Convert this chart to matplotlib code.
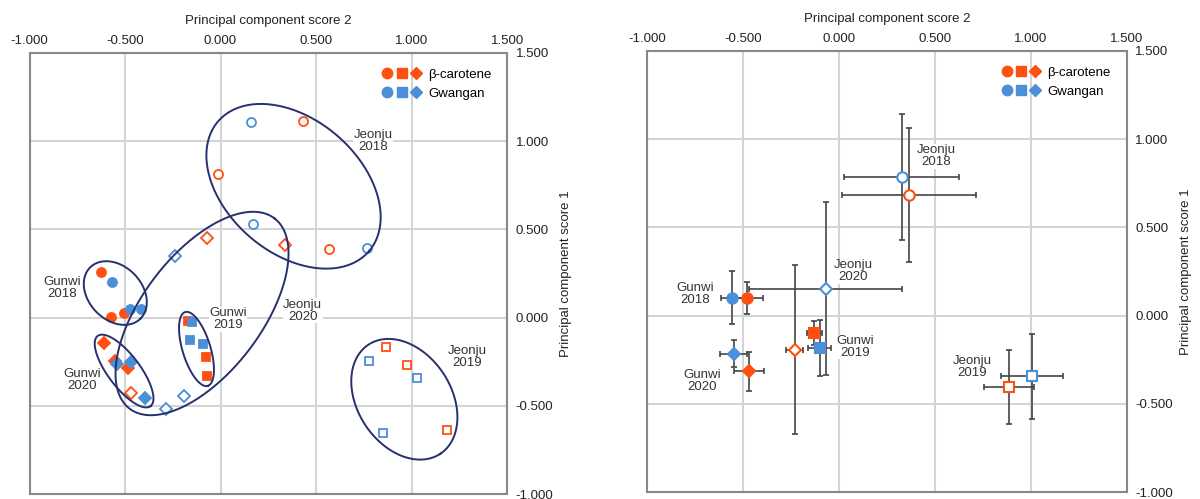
import numpy as np
import matplotlib
matplotlib.use('Agg')
import matplotlib.pyplot as plt
from matplotlib.lines import Line2D
from matplotlib.legend_handler import HandlerTuple

plt.rcParams['font.family'] = ['Liberation Sans', 'DejaVu Sans']
plt.rcParams['font.size'] = 9.5

ORANGE = '#ff5012'
BLUE = '#4a8fd8'
NAVY = '#26306e'

# ---- left panel: scores of every sample (PC2 on x, PC1 on y) ----
groups = ['Jeonju\n2018', 'Jeonju\n2019', 'Jeonju\n2020', 'Gunwi\n2018', 'Gunwi\n2019', 'Gunwi\n2020']
group_marker = ['o', 's', 'D', 'o', 's', 'D']
group_filled = [False, False, False, True, True, True]

bc_pc2 = [[0.431, -0.012, 0.567], [0.868, 0.974, 1.187], [-0.070, 0.335, -0.471],
          [-0.628, -0.572, -0.506], [-0.169, -0.075, -0.073], [-0.611, -0.555, -0.485]]
bc_pc1 = [[1.112, 0.814, 0.389], [-0.168, -0.268, -0.635], [0.449, 0.412, -0.429],
          [0.261, 0.002, 0.025], [-0.017, -0.225, -0.329], [-0.143, -0.244, -0.287]]
gw_pc2 = [[0.157, 0.169, 0.764], [0.777, 1.026, 0.850], [-0.236, -0.283, -0.192],
          [-0.567, -0.475, -0.415], [-0.148, -0.162, -0.093], [-0.541, -0.471, -0.393]]
gw_pc1 = [[1.107, 0.531, 0.395], [-0.244, -0.344, -0.653], [0.351, -0.517, -0.446],
          [0.202, 0.049, 0.049], [-0.026, -0.126, -0.149], [-0.262, -0.253, -0.455]]

# group ellipses: centre x, centre y, semi-axes (x units), angle (deg)
ell_cx = [0.382, 0.962, -0.097, -0.551, -0.126, -0.505]
ell_cy = [0.744, -0.463, 0.023, 0.139, -0.178, -0.303]
ell_a = [0.521, 0.342, 0.626, 0.188, 0.202, 0.230]
ell_b = [0.350, 0.245, 0.311, 0.140, 0.073, 0.084]
ell_ang = [-40.7, -56.7, 52.7, -46, -73, -53]

left_lab_x = [0.80, 1.29, 0.43, -0.827, 0.04, -0.724]
left_lab_y = [1.003, -0.225, 0.04, 0.17, -0.01, -0.353]

# ---- right panel: group means with error bars ----
bc_mean_x = [0.366, 0.885, -0.229, -0.480, -0.128, -0.469]
bc_mean_y = [0.682, -0.404, -0.193, 0.100, -0.098, -0.316]
bc_err_x = [0.35, 0.13, 0.045, 0.085, 0.04, 0.077]
bc_err_y = [0.38, 0.21, 0.48, 0.09, 0.07, 0.11]
gw_mean_x = [0.328, 1.007, -0.069, -0.556, -0.099, -0.547]
gw_mean_y = [0.784, -0.344, 0.151, 0.100, -0.183, -0.215]
gw_err_x = [0.30, 0.16, 0.40, 0.06, 0.06, 0.07]
gw_err_y = [0.357, 0.24, 0.49, 0.15, 0.16, 0.078]

right_lab_x = [0.509, 0.696, 0.075, -0.75, 0.083, -0.71]
right_lab_y = [0.903, -0.293, 0.251, 0.125, -0.178, -0.372]

ticks = [-1.0, -0.5, 0.0, 0.5, 1.0, 1.5]


def setup_axes(ax):
    ax.set_xlim(-1, 1.5)
    ax.set_ylim(-1, 1.5)
    ax.set_xticks(ticks)
    ax.set_yticks(ticks)
    ax.set_xticklabels([f'{t:.3f}' for t in ticks])
    ax.set_yticklabels([f'{t:.3f}' for t in ticks])
    ax.xaxis.tick_top()
    ax.yaxis.tick_right()
    ax.xaxis.set_label_position('top')
    ax.yaxis.set_label_position('right')
    ax.tick_params(length=0, pad=6, labelsize=9.5, colors='#222222')
    ax.tick_params(axis='x', pad=4.5)
    ax.set_xlabel('Principal component score 2', labelpad=8, color='#222222')
    ax.set_ylabel('Principal component score 1', labelpad=5, color='#222222')
    ax.grid(True, color='#d4d4d4', lw=1.5)
    ax.set_axisbelow(True)
    for s in ax.spines.values():
        s.set_color('#888888')
        s.set_linewidth(1.5)

    h_bc = tuple(Line2D([], [], ls='none', marker=m, ms=ms, mfc=ORANGE, mec=ORANGE)
                 for m, ms in zip('osD', [7.5, 7, 6.5]))
    h_gw = tuple(Line2D([], [], ls='none', marker=m, ms=ms, mfc=BLUE, mec=BLUE)
                 for m, ms in zip('osD', [7.5, 7, 6.5]))
    ax.legend([h_bc, h_gw], ['β-carotene', 'Gwangan'],
              handler_map={tuple: HandlerTuple(ndivide=None, pad=0)},
              loc='upper right', frameon=False, handlelength=3.2, handletextpad=0.4,
              borderaxespad=0.8, labelspacing=0.5, fontsize=9.5)


def draw_ellipse(ax, cx, cy, a, b, ang):
    bb = ax.get_window_extent()
    r = bb.height / bb.width
    t = np.linspace(0, 2 * np.pi, 300)
    th = np.radians(ang)
    ex = cx + a * np.cos(t) * np.cos(th) - b * np.sin(t) * np.sin(th)
    ey = cy + (a * np.cos(t) * np.sin(th) + b * np.sin(t) * np.cos(th)) / r
    ax.plot(ex, ey, color=NAVY, lw=1.4, zorder=4)


def group_label(ax, x, y, txt):
    ax.text(x, y, txt, ha='center', va='center', color='#333333', fontsize=9.5,
            linespacing=1.0, zorder=2.5,
            bbox=dict(fc='white', ec='none', pad=0.3))


fig = plt.figure(figsize=(12, 4.99), dpi=100)
ax1 = fig.add_axes([0.0246, 0.010, 0.398, 0.884])
ax2 = fig.add_axes([0.539, 0.014, 0.400, 0.884])
setup_axes(ax1)
setup_axes(ax2)

# left panel
for i in range(len(groups)):
    m = group_marker[i]
    ms = 6.0 if m != 'o' else 6.5
    for xs, ys, col in [(bc_pc2[i], bc_pc1[i], ORANGE), (gw_pc2[i], gw_pc1[i], BLUE)]:
        ax1.plot(xs, ys, ls='none', marker=m, ms=ms, mec=col,
                 mfc=col if group_filled[i] else 'white', mew=1.3, zorder=3)
    draw_ellipse(ax1, ell_cx[i], ell_cy[i], ell_a[i], ell_b[i], ell_ang[i])
    group_label(ax1, left_lab_x[i], left_lab_y[i], groups[i])

# right panel
for i in range(len(groups)):
    m = group_marker[i]
    ms = 7.5 if m == 'o' else (7.0 if m == 's' else 6.5)
    for mx, my, exx, eyy, col in [(bc_mean_x[i], bc_mean_y[i], bc_err_x[i], bc_err_y[i], ORANGE),
                                  (gw_mean_x[i], gw_mean_y[i], gw_err_x[i], gw_err_y[i], BLUE)]:
        ax2.errorbar(mx, my, xerr=exx, yerr=eyy, fmt='none', ecolor='#444444',
                     elinewidth=1.2, capsize=2.5, capthick=1.2, zorder=2.8)
        ax2.plot(mx, my, ls='none', marker=m, ms=ms, mec=col,
                 mfc=col if group_filled[i] else 'white', mew=1.5, zorder=3.5)
    group_label(ax2, right_lab_x[i], right_lab_y[i], groups[i])

fig.savefig('out.png', dpi=100)
